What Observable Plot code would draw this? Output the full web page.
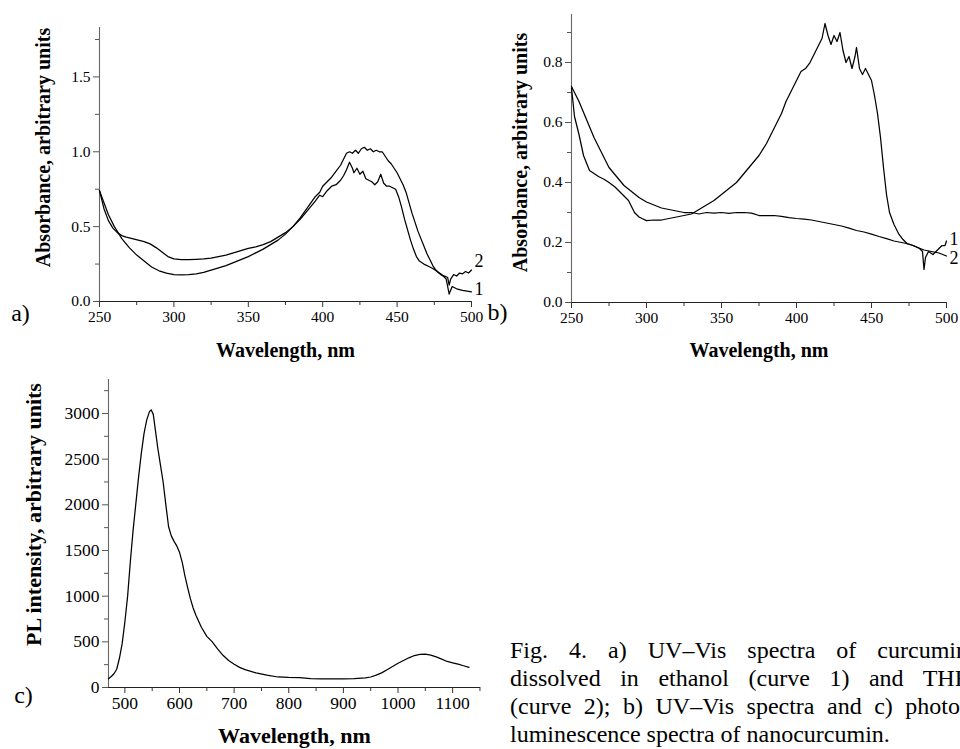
<!DOCTYPE html>
<html><head><meta charset="utf-8">
<script src="https://cdn.jsdelivr.net/npm/d3@7"></script>
<script src="https://cdn.jsdelivr.net/npm/@observablehq/plot@0.6"></script>
<style>
html,body{margin:0;padding:0;background:#fff;}
body{width:960px;height:749px;overflow:hidden;position:relative;font-family:"Liberation Serif","Times New Roman",serif;color:#000;}
.panel{position:absolute;left:0;top:0;}
.panel svg text{font-family:"Liberation Serif","Times New Roman",serif !important;}
#caption{position:absolute;left:510px;top:636px;width:458px;font-size:24px;line-height:28px;}
#caption .j{text-align:justify;text-align-last:justify;}
</style></head>
<body>
<div id="a" class="panel"></div>
<div id="b" class="panel"></div>
<div id="c" class="panel"></div>
<div id="caption">
<div class="j">Fig. 4. a) UV–Vis spectra of curcumin</div>
<div class="j">dissolved in ethanol (curve 1) and THF</div>
<div class="j">(curve 2); b) UV–Vis spectra and c) photo-</div>
<div>luminescence spectra of nanocurcumin.</div>
</div>
<script>
// ---- Panel a: UV-Vis of curcumin, ethanol (curve 1) and THF (curve 2)
const aCurve1 = [[250,0.74],[253,0.62],[256,0.54],[259,0.49],[262,0.46],[265,0.44],[268,0.43],[272,0.42],[276,0.41],[280,0.40],[284,0.385],[288,0.36],[292,0.33],[296,0.30],[300,0.285],[305,0.28],[310,0.28],[315,0.282],[320,0.285],[325,0.29],[330,0.30],[335,0.31],[340,0.325],[345,0.34],[350,0.355],[355,0.365],[360,0.38],[365,0.40],[370,0.43],[375,0.46],[380,0.50],[385,0.55],[390,0.61],[395,0.67],[398,0.71],[400,0.70],[403,0.74],[406,0.77],[409,0.78],[412,0.81],[414,0.84],[416,0.88],[418,0.93],[420,0.89],[421,0.86],[423,0.89],[425,0.85],[427,0.87],[429,0.82],[431,0.81],[433,0.80],[435,0.78],[437,0.80],[439,0.85],[441,0.79],[443,0.77],[445,0.77],[447,0.76],[449,0.75],[451,0.70],[453,0.63],[455,0.55],[457,0.48],[459,0.41],[461,0.35],[463,0.30],[465,0.27],[468,0.25],[471,0.235],[474,0.22],[477,0.20],[480,0.18],[483,0.15],[485,0.05],[487,0.10],[490,0.085],[494,0.075],[497,0.07],[500,0.065]];
const aCurve2 = [[250,0.74],[253,0.66],[256,0.58],[260,0.50],[265,0.42],[270,0.36],[275,0.31],[280,0.27],[285,0.23],[290,0.205],[295,0.19],[300,0.18],[305,0.178],[310,0.18],[315,0.185],[320,0.195],[325,0.21],[330,0.225],[335,0.24],[340,0.26],[345,0.28],[350,0.30],[355,0.325],[360,0.35],[365,0.38],[370,0.41],[375,0.45],[380,0.50],[385,0.56],[390,0.63],[395,0.70],[398,0.73],[400,0.77],[403,0.80],[406,0.83],[409,0.87],[412,0.91],[414,0.95],[416,0.99],[418,1.0],[420,0.99],[422,1.01],[424,0.99],[426,1.02],[428,1.03],[430,1.01],[432,1.02],[434,1.0],[436,1.01],[438,1.0],[440,1.0],[442,0.97],[444,0.94],[446,0.92],[448,0.89],[450,0.86],[452,0.82],[454,0.78],[456,0.73],[458,0.66],[460,0.59],[462,0.53],[464,0.47],[466,0.42],[468,0.37],[470,0.32],[472,0.28],[474,0.24],[476,0.21],[478,0.19],[480,0.175],[482,0.17],[484,0.16],[485,0.11],[486,0.15],[488,0.18],[490,0.17],[492,0.19],[494,0.185],[496,0.2],[498,0.19],[500,0.21]];
const aXDomain = [250, 500];
const aYDomain = [0, 1.83];
const aXTicks = [250, 300, 350, 400, 450, 500];
const aXMinor = [275, 325, 375, 425, 475];
const aYTicks = [0, 0.5, 1.0, 1.5];
const aYMinor = [0.25, 0.75, 1.25, 1.75];

// ---- Panel b: UV-Vis of nanocurcumin
const bCurve1 = [[250,0.715],[252,0.62],[255,0.56],[258,0.49],[262,0.44],[265,0.43],[268,0.42],[272,0.41],[275,0.40],[279,0.385],[282,0.37],[285,0.355],[288,0.34],[290,0.32],[292,0.30],[295,0.285],[297,0.28],[300,0.273],[305,0.275],[310,0.275],[315,0.28],[320,0.285],[325,0.29],[330,0.295],[335,0.31],[340,0.325],[345,0.34],[350,0.36],[355,0.38],[360,0.40],[365,0.43],[370,0.46],[375,0.49],[380,0.53],[385,0.58],[390,0.63],[393,0.67],[395,0.69],[397,0.71],[400,0.74],[403,0.77],[406,0.78],[409,0.80],[412,0.83],[415,0.86],[417,0.88],[419,0.93],[421,0.89],[423,0.86],[425,0.89],[427,0.87],[429,0.90],[431,0.84],[433,0.80],[435,0.82],[437,0.78],[439,0.82],[440,0.85],[442,0.78],[444,0.76],[446,0.78],[448,0.76],[450,0.74],[452,0.69],[454,0.63],[456,0.55],[458,0.45],[460,0.36],[462,0.30],[465,0.26],[468,0.23],[471,0.21],[474,0.195],[478,0.19],[482,0.18],[484,0.17],[485,0.11],[486,0.15],[488,0.17],[491,0.16],[494,0.175],[497,0.19],[499,0.19],[500,0.205]];
const bCurve2 = [[250,0.72],[255,0.67],[260,0.61],[265,0.55],[270,0.50],[275,0.45],[280,0.42],[285,0.39],[290,0.37],[295,0.35],[300,0.335],[305,0.325],[310,0.315],[315,0.31],[320,0.305],[325,0.30],[330,0.30],[335,0.295],[340,0.30],[345,0.298],[350,0.30],[355,0.297],[360,0.30],[365,0.30],[370,0.298],[375,0.29],[380,0.29],[385,0.29],[390,0.287],[395,0.283],[400,0.28],[405,0.278],[410,0.275],[415,0.27],[420,0.265],[425,0.26],[430,0.255],[435,0.248],[440,0.24],[445,0.235],[450,0.228],[455,0.22],[460,0.213],[465,0.205],[470,0.20],[475,0.195],[480,0.185],[485,0.175],[490,0.17],[495,0.165],[500,0.155]];
const bXDomain = [250, 500];
const bYDomain = [0, 0.96];
const bXTicks = [250, 300, 350, 400, 450, 500];
const bXMinor = [275, 325, 375, 425, 475];
const bYTicks = [0, 0.2, 0.4, 0.6, 0.8];
const bYMinor = [0.1, 0.3, 0.5, 0.7, 0.9];

// ---- Panel c: photoluminescence of nanocurcumin
const cCurve = [[470,95],[475,120],[480,150],[485,200],[490,320],[495,480],[500,720],[505,1000],[510,1380],[515,1720],[520,2010],[525,2300],[530,2560],[535,2780],[540,2930],[545,3020],[548,3040],[552,2990],[556,2810],[560,2630],[565,2440],[570,2250],[575,2000],[580,1760],[585,1660],[590,1600],[595,1550],[600,1480],[605,1370],[610,1220],[615,1090],[620,970],[625,870],[630,790],[640,660],[650,560],[660,500],[670,420],[680,350],[690,295],[700,255],[710,220],[720,195],[740,160],[760,135],[780,115],[800,110],[820,108],[840,98],[860,95],[880,95],[900,95],[920,96],[940,105],[950,115],[960,135],[970,160],[980,195],[990,230],[1000,265],[1010,295],[1020,325],[1030,350],[1040,363],[1050,365],[1060,355],[1070,335],[1080,310],[1090,285],[1100,270],[1110,255],[1120,238],[1130,220]];
const cXDomain = [470, 1151];
const cYDomain = [0, 3372];
const cXTicks = [500, 600, 700, 800, 900, 1000, 1100];
const cXMinor = [550, 650, 750, 850, 950, 1050, 1150];
const cYTicks = [0, 500, 1000, 1500, 2000, 2500, 3000];
const cYMinor = [250, 750, 1250, 1750, 2250, 2750, 3250];

const blank = () => "";
const serif = "'Liberation Serif', 'Times New Roman', serif";

function panel({curves, xDomain, yDomain, xTicks, xMinor, yTicks, yMinor, xFormat, yFormat, margins, tickFont, titleFont, yTitle, yTitleDx, yTitleDy, xTitleDy, letter, letterDx, letterDy, endLabels}) {
  const marks = [
    Plot.ruleY([yDomain[0]], {stroke: "#222", strokeWidth: 1.1}),
    Plot.ruleX([xDomain[0]], {stroke: "#666", strokeWidth: 1.1}),
    Plot.axisX(xMinor, {tickSize: 4, tickFormat: blank, label: null, stroke: "#333"}),
    Plot.axisX(xTicks, {tickSize: 6, tickPadding: 3, tickFormat: xFormat, label: null, stroke: "#333", fontSize: tickFont}),
    Plot.axisY(yMinor, {tickSize: 4, tickFormat: blank, label: null, stroke: "#555"}),
    Plot.axisY(yTicks, {tickSize: 6, tickPadding: 3, tickFormat: yFormat, label: null, stroke: "#555", fontSize: tickFont}),
    ...curves.map(c => Plot.line(c, {x: d => d[0], y: d => d[1], stroke: "#000", strokeWidth: 1.25})),
    Plot.text([yTitle], {frameAnchor: "left", rotate: -90, textAnchor: "middle", lineAnchor: "middle", dx: yTitleDx, dy: yTitleDy, fontWeight: "bold", fontSize: titleFont}),
    Plot.text(["Wavelength, nm"], {frameAnchor: "bottom", textAnchor: "middle", lineAnchor: "middle", dy: xTitleDy, fontWeight: "bold", fontSize: titleFont}),
    Plot.text([letter], {frameAnchor: "bottom-left", textAnchor: "middle", lineAnchor: "middle", dx: letterDx, dy: letterDy, fontSize: 24})
  ];
  (endLabels || []).forEach(([curve, txt, dy]) => {
    const last = curve[curve.length - 1];
    marks.push(Plot.text([last], {x: d => d[0], y: d => d[1], text: () => txt, dx: 3, dy, textAnchor: "start", lineAnchor: "middle", fontSize: 18}));
  });
  return Plot.plot({
    width: 960, height: 749,
    marginLeft: margins[0], marginRight: margins[1], marginTop: margins[2], marginBottom: margins[3],
    style: {fontFamily: serif, fontSize: tickFont + "px", background: "transparent", color: "#000", overflow: "visible"},
    x: {domain: xDomain, label: null},
    y: {domain: yDomain, label: null},
    marks
  });
}

document.getElementById("a").append(panel({
  curves: [aCurve1, aCurve2], xDomain: aXDomain, yDomain: aYDomain,
  xTicks: aXTicks, xMinor: aXMinor, yTicks: aYTicks, yMinor: aYMinor, xFormat: d3.format("d"), yFormat: d3.format(".1f"),
  margins: [99, 489, 27, 448], tickFont: 15.5, titleFont: 20,
  yTitle: "Absorbance, arbitrary units", yTitleDx: -56, yTitleDy: -17, xTitleDy: 49,
  letter: "a)", letterDx: -79, letterDy: 12,
  endLabels: [[aCurve2, "2", -9], [aCurve1, "1", -3]]
}));
document.getElementById("b").append(panel({
  curves: [bCurve1, bCurve2], xDomain: bXDomain, yDomain: bYDomain,
  xTicks: bXTicks, xMinor: bXMinor, yTicks: bYTicks, yMinor: bYMinor, xFormat: d3.format("d"), yFormat: d3.format(".1f"),
  margins: [571, 14, 14, 447], tickFont: 15.5, titleFont: 20,
  yTitle: "Absorbance, arbitrary units", yTitleDx: -51, yTitleDy: -6, xTitleDy: 48,
  letter: "b)", letterDx: -74, letterDy: 10,
  endLabels: [[bCurve1, "1", -2], [bCurve2, "2", 2]]
}));
document.getElementById("c").append(panel({
  curves: [cCurve], xDomain: cXDomain, yDomain: cYDomain,
  xTicks: cXTicks, xMinor: cXMinor, yTicks: cYTicks, yMinor: cYMinor, xFormat: d3.format("d"), yFormat: d3.format("d"),
  margins: [108, 480, 379, 62], tickFont: 17.5, titleFont: 22,
  yTitle: "PL intensity, arbitrary units", yTitleDx: -75, yTitleDy: -19, xTitleDy: 48,
  letter: "c)", letterDx: -85, letterDy: 8,
  endLabels: []
}));
</script>
</body></html>
